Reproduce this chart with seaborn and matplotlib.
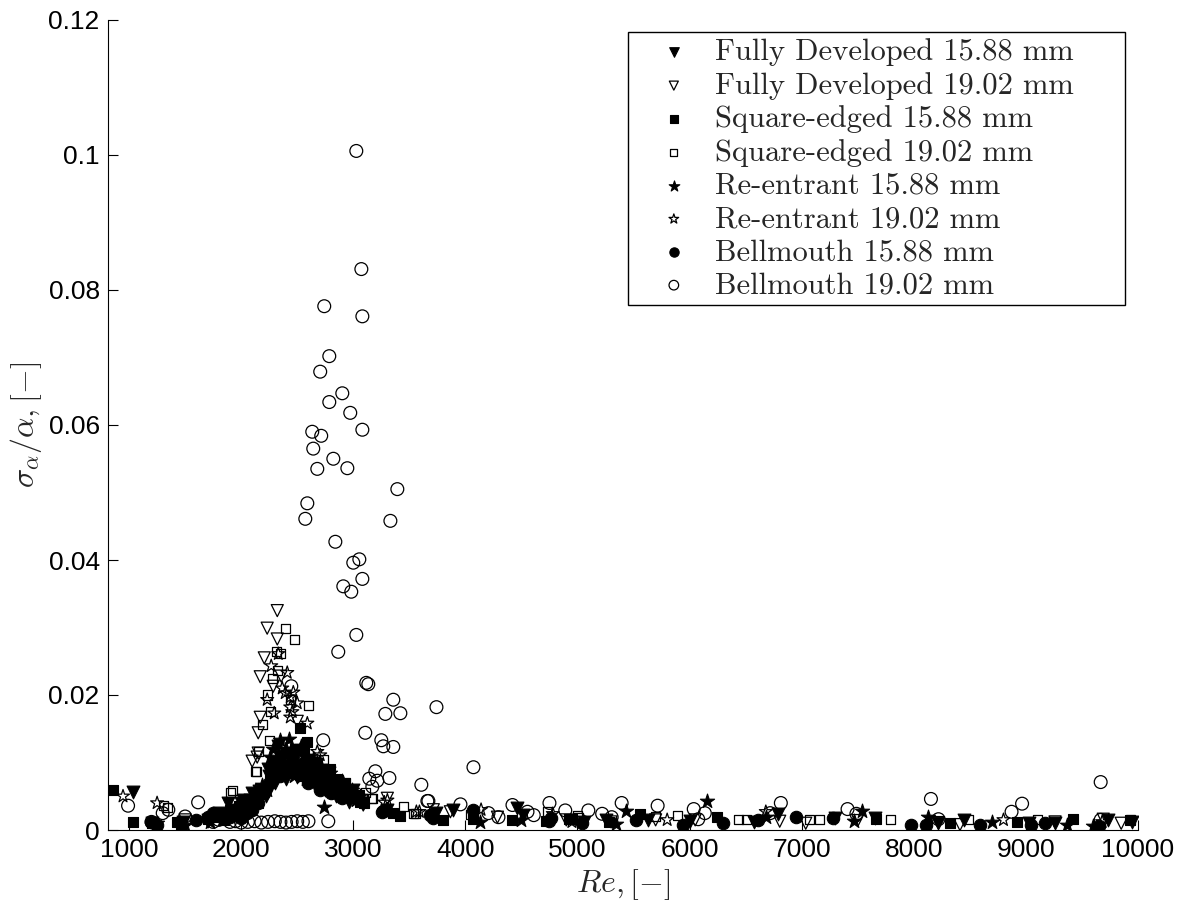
import numpy as np
import pandas as pd
import matplotlib
matplotlib.use("Agg")
import matplotlib.pyplot as plt
import seaborn as sns
from matplotlib.ticker import FuncFormatter

# Data (Re, sigma_alpha/alpha)
fd1588_re = [1036, 1205, 1480, 1700, 1800, 1880, 1960, 2020, 2060, 2100,
             2140, 2200, 2240, 2280, 2330, 2380, 2420, 2470, 2520, 2560,
             2620, 2680, 2740, 2800, 2860, 2920, 2980, 3040, 3090, 3300,
             3740, 3893, 4464, 4510, 5060, 5250, 5625, 6000, 6579, 6790,
             7300, 7652, 8220, 8448, 9028, 9260, 9733, 9948,
             2250, 2300, 2350, 2400, 2450, 2500, 2550, 2600, 2650, 2700,
             2750, 2780, 2850, 2900, 2960, 3000, 1850, 1920, 2000, 2080,
             2160, 2220]
fd1588_y = [0.0056, 0.0010, 0.0012, 0.0015, 0.0025, 0.0040, 0.0030, 0.0045, 0.0035, 0.0055,
            0.0048, 0.0060, 0.0090, 0.0100, 0.0125, 0.0110, 0.0095, 0.0105, 0.0090, 0.0085,
            0.0100, 0.0080, 0.0075, 0.0065, 0.0060, 0.0055, 0.0050, 0.0045, 0.0040, 0.0030,
            0.0025, 0.0030, 0.0032, 0.0022, 0.0012, 0.0015, 0.0015, 0.0013, 0.0012, 0.0024,
            0.0018, 0.0018, 0.0011, 0.0015, 0.0011, 0.0010, 0.0015, 0.0012,
            0.0080, 0.0070, 0.0085, 0.0075, 0.0090, 0.0078, 0.0095, 0.0082, 0.0070, 0.0068,
            0.0060, 0.0085, 0.0050, 0.0065, 0.0042, 0.0060, 0.0020, 0.0025, 0.0040, 0.0045,
            0.0058, 0.0050]

fd1902_re = [2322, 2232, 2322, 2206, 2170, 2286, 2357, 2170, 2152, 2098,
             2143, 2500, 2348, 2152, 1705, 1500, 2400, 2650, 2900, 3089,
             3304, 3714, 3866, 4286, 4900, 5300, 5697, 6050, 6804, 7036,
             7500, 8220, 8412, 9260, 9690, 9850]
fd1902_y = [0.0325, 0.0299, 0.0283, 0.0255, 0.0227, 0.0213, 0.0228, 0.0167, 0.0144, 0.0102,
            0.0108, 0.0161, 0.0089, 0.0114, 0.0012, 0.0015, 0.0120, 0.0095, 0.0060, 0.0037,
            0.0047, 0.0030, 0.0027, 0.0019, 0.0015, 0.0012, 0.0015, 0.0015, 0.0013, 0.0010,
            0.0014, 0.0011, 0.0008, 0.0012, 0.0016, 0.0010]

se1588_re = [857, 1036, 1205, 1430, 1460, 1700, 1800, 1900, 1980, 2050,
             2120, 2200, 2260, 2330, 2400, 2450, 2527, 2560, 2600, 2650,
             2700, 2760, 2820, 2880, 2950, 3000, 3060, 3357, 3420, 3804,
             4072, 4420, 4720, 4920, 4950, 5280, 5555, 6243, 7665, 8323,
             8920, 9421, 9930,
             2280, 2350, 2420, 2480, 2540, 2590, 2630, 2680, 2730, 2790,
             2850, 2920, 2980, 3050, 3100, 2150, 2080, 1950, 1850]
se1588_y = [0.0059, 0.0012, 0.0010, 0.0012, 0.0008, 0.0016, 0.0020, 0.0030, 0.0035, 0.0042,
            0.0050, 0.0060, 0.0085, 0.0100, 0.0115, 0.0100, 0.0151, 0.0120, 0.0105, 0.0090,
            0.0085, 0.0080, 0.0070, 0.0062, 0.0055, 0.0048, 0.0042, 0.0025, 0.0021, 0.0015,
            0.0017, 0.0015, 0.0014, 0.0016, 0.0016, 0.0012, 0.0024, 0.0019, 0.0016, 0.0011,
            0.0012, 0.0016, 0.0015,
            0.0095, 0.0110, 0.0085, 0.0120, 0.0080, 0.0130, 0.0075, 0.0100, 0.0070, 0.0090,
            0.0075, 0.0068, 0.0058, 0.0052, 0.0040, 0.0040, 0.0030, 0.0022, 0.0015]

se1902_re = [1304, 1339, 1902, 1920, 2125, 2134, 2152, 2161, 2188, 2188,
             2197, 2232, 2250, 2259, 2277, 2313, 2322, 2348, 2393, 2438,
             2474, 2527, 2572, 2599, 2732, 2857, 2929, 3107, 3161, 3170,
             3447, 3536, 3554, 4050, 4730, 5000, 5007, 5697, 5890, 6439,
             6510, 7072, 7161, 7795, 8484, 9100, 9930]
se1902_y = [0.0037, 0.0034, 0.0056, 0.0058, 0.0086, 0.0087, 0.0117, 0.0062, 0.0062, 0.0156,
            0.0059, 0.0200, 0.0133, 0.0175, 0.0225, 0.0264, 0.0237, 0.0261, 0.0299, 0.0193,
            0.0282, 0.0104, 0.0101, 0.0184, 0.0104, 0.0071, 0.0070, 0.0055, 0.0046, 0.0046,
            0.0035, 0.0024, 0.0025, 0.0023, 0.0027, 0.0022, 0.0018, 0.0020, 0.0022, 0.0016,
            0.0016, 0.0016, 0.0016, 0.0016, 0.0016, 0.0015, 0.0015]

re1588_re = [1250, 1500, 1720, 1850, 2000, 2100, 2188, 2259, 2300, 2348,
             2400, 2450, 2500, 2560, 2620, 2680, 2741, 2760, 2820, 2880,
             2950, 3020, 4126, 4500, 5345, 5430, 6153, 6684, 7470, 7537,
             8130, 8698, 9367, 9600,
             2280, 2330, 2370, 2430, 2470, 2530, 2580, 2640, 2710, 2790,
             2850, 2900, 2990, 3060, 2230, 2150, 1950]
re1588_y = [0.0010, 0.0008, 0.0012, 0.0020, 0.0030, 0.0045, 0.0067, 0.0108, 0.0090, 0.0133,
            0.0120, 0.0105, 0.0095, 0.0110, 0.0090, 0.0080, 0.0034, 0.0075, 0.0065, 0.0060,
            0.0050, 0.0045, 0.0012, 0.0015, 0.0009, 0.0028, 0.0043, 0.0020, 0.0013, 0.0028,
            0.0020, 0.0012, 0.0007, 0.0006,
            0.0120, 0.0100, 0.0085, 0.0135, 0.0080, 0.0125, 0.0075, 0.0105, 0.0095, 0.0085,
            0.0055, 0.0072, 0.0060, 0.0050, 0.0060, 0.0050, 0.0025]

re1902_re = [946, 1250, 2232, 2268, 2295, 2331, 2366, 2393, 2411, 2438,
             2438, 2438, 2456, 2465, 2500, 2527, 2590, 2679, 2705, 2768,
             2911, 3277, 3304, 3563, 3590, 4140, 4780, 4950, 5800, 6680,
             8800, 9680]
re1902_y = [0.0050, 0.0040, 0.0193, 0.0243, 0.0173, 0.0261, 0.0210, 0.0203, 0.0233, 0.0197,
            0.0182, 0.0167, 0.0175, 0.0204, 0.0188, 0.0119, 0.0158, 0.0116, 0.0111, 0.0086,
            0.0071, 0.0041, 0.0044, 0.0027, 0.0027, 0.0030, 0.0024, 0.0012, 0.0015, 0.0027,
            0.0015, 0.0012]

bm1588_re = [1200, 1250, 1600, 1700, 1750, 1850, 2000, 2100, 2350, 2400,
             2500, 2600, 2700, 3259, 3268, 3688, 3706, 3714, 4072, 4750,
             4760, 5040, 5520, 5942, 6302, 6612, 6947, 7283, 7972, 8113,
             8590, 9047, 9170, 9650,
             2250, 2300, 2450, 2550, 2650, 2750, 2800, 2900, 2200, 2150,
             1900, 1950, 2050]
bm1588_y = [0.0012, 0.0008, 0.0015, 0.0020, 0.0025, 0.0022, 0.0018, 0.0030, 0.0080, 0.0095,
            0.0085, 0.0070, 0.0060, 0.0027, 0.0028, 0.0022, 0.0021, 0.0018, 0.0030, 0.0014,
            0.0018, 0.0010, 0.0015, 0.0007, 0.0010, 0.0015, 0.0020, 0.0018, 0.0007, 0.0007,
            0.0007, 0.0007, 0.0011, 0.0006,
            0.0070, 0.0095, 0.0110, 0.0100, 0.0085, 0.0070, 0.0055, 0.0048, 0.0055, 0.0040,
            0.0020, 0.0030, 0.0025]

bm1902_re = [3027, 3072, 2741, 3081, 2786, 2705, 2902, 2786, 2973, 3081,
             2634, 2714, 2643, 2822, 2679, 2947, 2590, 2572, 3393, 3331,
             2840, 3000, 3054, 3081, 2911, 2982, 3027, 2866, 3116, 3134,
             3357, 3286, 3420, 3742, 3107, 3250, 3268, 3357, 2732, 2447,
             3197, 3143, 3214, 3322, 3170, 3607, 3661, 4072, 2777, 1616,
             1900, 1950, 2000, 2060, 2120, 2180, 2240, 2300, 2350, 2400,
             2450, 2500, 2550, 2600, 991, 1200, 1300, 1350, 1500, 1750,
             1800, 3670, 3956, 4206, 4295, 4420, 4554, 4610, 4750, 4891,
             5097, 5220, 5305, 5394, 5715, 6037, 6077, 6136, 6719, 6814,
             7409, 7488, 8153, 8220, 8872, 8966, 9667, 9667]
bm1902_y = [0.1006, 0.0831, 0.0776, 0.0761, 0.0702, 0.0679, 0.0647, 0.0634, 0.0618, 0.0593,
            0.0590, 0.0584, 0.0565, 0.0550, 0.0535, 0.0536, 0.0484, 0.0461, 0.0505, 0.0458,
            0.0427, 0.0396, 0.0401, 0.0372, 0.0361, 0.0353, 0.0289, 0.0264, 0.0218, 0.0216,
            0.0193, 0.0172, 0.0173, 0.0182, 0.0144, 0.0133, 0.0124, 0.0123, 0.0133, 0.0213,
            0.0087, 0.0076, 0.0073, 0.0077, 0.0064, 0.0067, 0.0043, 0.0093, 0.0013, 0.0041,
            0.0012, 0.0013, 0.0011, 0.0012, 0.0013, 0.0011, 0.0012, 0.0013, 0.0012, 0.0011,
            0.0012, 0.0013, 0.0012, 0.0013, 0.0036, 0.0012, 0.0025, 0.0030, 0.0020, 0.0012,
            0.0015, 0.0043, 0.0038, 0.0025, 0.0019, 0.0037, 0.0027, 0.0022, 0.0040, 0.0029,
            0.0029, 0.0024, 0.0019, 0.0040, 0.0036, 0.0031, 0.0016, 0.0025, 0.0025, 0.0040,
            0.0031, 0.0024, 0.0046, 0.0016, 0.0027, 0.0039, 0.0071, 0.0015]

labels = ["Fully Developed 15.88 mm", "Fully Developed 19.02 mm",
          "Square-edged 15.88 mm", "Square-edged 19.02 mm",
          "Re-entrant 15.88 mm", "Re-entrant 19.02 mm",
          "Bellmouth 15.88 mm", "Bellmouth 19.02 mm"]
x_ticks = [1000, 2000, 3000, 4000, 5000, 6000, 7000, 8000, 9000, 10000]
y_ticks = [0, 0.02, 0.04, 0.06, 0.08, 0.1, 0.12]

series = [
    (fd1588_re, fd1588_y, "v", True, 85),
    (fd1902_re, fd1902_y, "v", False, 75),
    (se1588_re, se1588_y, "s", True, 50),
    (se1902_re, se1902_y, "s", False, 42),
    (re1588_re, re1588_y, "*", True, 115),
    (re1902_re, re1902_y, "*", False, 95),
    (bm1588_re, bm1588_y, "o", True, 80),
    (bm1902_re, bm1902_y, "o", False, 85),
]

sns.set_style("white")
plt.rcParams["font.family"] = ["Liberation Sans", "DejaVu Sans"]
plt.rcParams["mathtext.fontset"] = "cm"

fig = plt.figure(figsize=(11.8, 9.01), dpi=100)
ax = fig.add_axes([108 / 1180, 1 - 830 / 901, 1030 / 1180, 810 / 901])

for (xs, ys, mk, filled, size), lab in zip(series, labels):
    df = pd.DataFrame({"Re": xs, "s": ys})
    if filled:
        sns.scatterplot(data=df, x="Re", y="s", marker=mk, s=size, color="black",
                        edgecolor="black", linewidth=0.8, label=lab, ax=ax)
    else:
        sns.scatterplot(data=df, x="Re", y="s", marker=mk, s=size, color="black",
                        facecolor="none", edgecolor="black", linewidth=0.9, label=lab, ax=ax)

ax.set_xlim(812, 10000)
ax.set_ylim(0, 0.12)
ax.set_xticks(x_ticks)
ax.set_yticks(y_ticks)
ax.yaxis.set_major_formatter(FuncFormatter(lambda v, p: "%g" % v))
ax.tick_params(direction="in", length=7, width=0.8, labelsize=19, pad=6,
               top=False, right=False, bottom=True, left=True, colors="black")
for side in ["top", "right"]:
    ax.spines[side].set_visible(False)
for side in ["left", "bottom"]:
    ax.spines[side].set_color("black")
    ax.spines[side].set_linewidth(0.8)

ax.set_xlabel(r"$Re, [-]$", fontsize=23)
ax.set_ylabel(r"$\sigma_\alpha/\alpha, [-]$", fontsize=23)
ax.xaxis.set_label_coords(0.5, -0.046)
ax.yaxis.set_label_coords(-0.062, 0.5)

leg = ax.legend(loc="upper left", bbox_to_anchor=(628 / 1180, 1 - 32 / 901, 497 / 1180, 0.0),
                bbox_transform=fig.transFigure, mode="expand", borderaxespad=0,
                prop={"family": "cmr10", "size": 22}, frameon=True, fancybox=False,
                edgecolor="black", framealpha=1, labelspacing=0.185, borderpad=0.2,
                handlelength=2.6, handletextpad=0.05, markerscale=0.75)
leg.get_frame().set_linewidth(1.0)

fig.savefig("out.png", dpi=100)
